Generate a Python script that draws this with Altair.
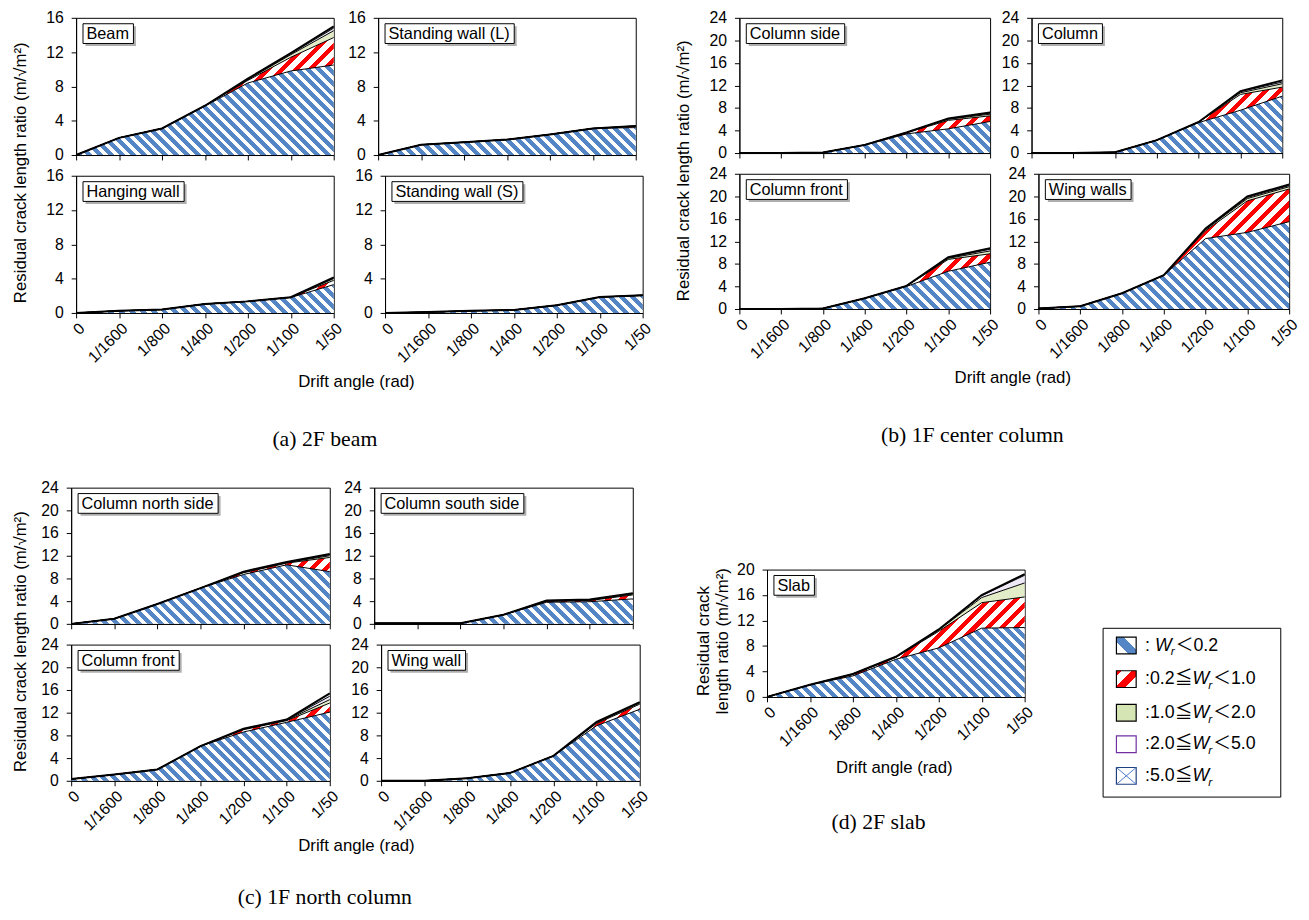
import altair as alt
import numpy as np
import pandas as pd

SANS = "Liberation Sans, Arial, Noto Sans CJK JP"
SERIF = "Liberation Serif, Times New Roman, serif"

XL = ["0", "1/1600", "1/800", "1/400", "1/200", "1/100", "1/50"]
YTITLE = "Residual crack length ratio (m/√m²)"
XTITLE = "Drift angle (rad)"

# ---- data: residual crack length ratio per crack-width class (layer values) ----
# (a) 2F beam
BEAM_1 = [0, 2.0, 3.1, 5.7, 8.4, 9.8, 10.5]
BEAM_2 = [0, 0, 0, 0.05, 0.3, 1.6, 3.2]
BEAM_3 = [0, 0, 0, 0, 0.1, 0.3, 0.8]
BEAM_4 = [0, 0, 0, 0, 0.05, 0.1, 0.3]
BEAM_5 = [0, 0, 0, 0, 0.05, 0.1, 0.2]

SWL_1 = [0, 1.2, 1.5, 1.8, 2.4, 3.1, 3.2]
SWL_2 = [0, 0, 0, 0, 0, 0, 0.15]
SWL_3 = [0, 0, 0, 0, 0, 0, 0.03]
SWL_4 = [0, 0, 0, 0, 0, 0, 0.02]
SWL_5 = [0, 0, 0, 0, 0, 0, 0.0]

HW_1 = [0, 0.25, 0.4, 1.05, 1.35, 1.8, 3.3]
HW_2 = [0, 0, 0, 0, 0, 0.03, 0.5]
HW_3 = [0, 0, 0, 0, 0, 0, 0.2]
HW_4 = [0, 0, 0, 0, 0, 0, 0.1]
HW_5 = [0, 0, 0, 0, 0, 0, 0.05]

SWS_1 = [0, 0.1, 0.25, 0.35, 0.9, 1.85, 2.0]
SWS_2 = [0, 0, 0, 0, 0, 0, 0.05]
SWS_3 = [0, 0, 0, 0, 0, 0, 0.03]
SWS_4 = [0, 0, 0, 0, 0, 0, 0.0]
SWS_5 = [0, 0, 0, 0, 0, 0, 0.0]

# (b) 1F center column
CS_1 = [0, 0, 0.1, 1.4, 3.4, 4.3, 5.6]
CS_2 = [0, 0, 0, 0.05, 0.2, 1.5, 1.0]
CS_3 = [0, 0, 0, 0, 0.05, 0.2, 0.3]
CS_4 = [0, 0, 0, 0, 0, 0.1, 0.2]
CS_5 = [0, 0, 0, 0, 0, 0.05, 0.1]

COL_1 = [0, 0, 0.15, 2.3, 5.4, 7.6, 10.1]
COL_2 = [0, 0, 0, 0, 0.1, 2.8, 1.6]
COL_3 = [0, 0, 0, 0, 0, 0.3, 0.6]
COL_4 = [0, 0, 0, 0, 0.02, 0.2, 0.3]
COL_5 = [0, 0, 0, 0, 0, 0.1, 0.3]

CFB_1 = [0, 0, 0.1, 1.9, 4.0, 6.7, 8.3]
CFB_2 = [0, 0, 0, 0, 0.1, 2.1, 1.5]
CFB_3 = [0, 0, 0, 0, 0, 0.2, 0.5]
CFB_4 = [0, 0, 0, 0, 0, 0.1, 0.3]
CFB_5 = [0, 0, 0, 0, 0, 0.1, 0.2]

WWS_1 = [0.1, 0.5, 2.8, 6.0, 12.5, 13.6, 15.5]
WWS_2 = [0, 0, 0, 0, 1.4, 5.6, 5.8]
WWS_3 = [0, 0, 0, 0, 0.2, 0.4, 0.4]
WWS_4 = [0, 0, 0, 0, 0.1, 0.2, 0.2]
WWS_5 = [0, 0, 0, 0, 0.1, 0.2, 0.2]

# (c) 1F north column
CNS_1 = [0, 0.9, 3.5, 6.3, 8.7, 10.4, 9.2]
CNS_2 = [0, 0, 0, 0, 0.3, 0.3, 2.5]
CNS_3 = [0, 0, 0, 0, 0.1, 0.1, 0.3]
CNS_4 = [0, 0, 0, 0, 0.05, 0.05, 0.2]
CNS_5 = [0, 0, 0, 0, 0.05, 0.05, 0.1]

CSS_1 = [0.1, 0.1, 0.1, 1.6, 3.8, 3.9, 4.4]
CSS_2 = [0, 0, 0, 0, 0.15, 0.2, 0.7]
CSS_3 = [0, 0, 0, 0, 0.1, 0.1, 0.2]
CSS_4 = [0, 0, 0, 0, 0.05, 0.05, 0.05]
CSS_5 = [0, 0, 0, 0, 0, 0.05, 0.05]

CFC_1 = [0.3, 1.1, 2.0, 6.1, 8.6, 10.3, 12.1]
CFC_2 = [0, 0, 0, 0, 0.4, 0.3, 1.6]
CFC_3 = [0, 0, 0, 0, 0.1, 0.1, 0.6]
CFC_4 = [0, 0, 0, 0, 0.05, 0.05, 0.6]
CFC_5 = [0, 0, 0, 0, 0.05, 0.05, 0.5]

WW_1 = [0, 0, 0.45, 1.4, 4.4, 9.7, 12.6]
WW_2 = [0, 0, 0, 0, 0, 0.4, 0.9]
WW_3 = [0, 0, 0, 0, 0, 0.15, 0.2]
WW_4 = [0, 0, 0, 0, 0, 0.1, 0.1]
WW_5 = [0, 0, 0, 0, 0, 0.05, 0.05]

# (d) 2F slab
SLAB_1 = [0, 1.9, 3.3, 5.9, 7.7, 10.8, 10.9]
SLAB_2 = [0, 0, 0.25, 0.3, 2.6, 4.0, 4.8]
SLAB_3 = [0, 0, 0.05, 0.05, 0.2, 0.8, 2.2]
SLAB_4 = [0, 0, 0, 0.05, 0.05, 0.3, 1.2]
SLAB_5 = [0, 0, 0, 0, 0.05, 0.1, 0.2]

LEG_PRE = [": ", ":0.2≦", ":1.0≦", ":2.0≦", ":5.0≦"]
LEG_SUF = ["＜0.2", "＜1.0", "＜2.0", "＜5.0", ""]

# ---- styles ----
BLUE = "#5485C4"
RED = "#FF0000"
GREEN_FILL = "#e3ecc8"
PURPLE_FILL = "#efe8f6"
CROSS_FILL = "#e9eef8"

AW = {" ": 278, "(": 333, ")": 333, "A": 667, "B": 667, "C": 722, "D": 722, "F": 611,
      "H": 722, "L": 556, "S": 667, "W": 944, "a": 556, "b": 556, "c": 500, "d": 556,
      "e": 556, "f": 278, "g": 556, "h": 556, "i": 222, "k": 500, "l": 222, "m": 833,
      "n": 556, "o": 556, "r": 333, "s": 500, "t": 278, "u": 556, "w": 722, ".": 278,
      "/": 278, ":": 278}


def tw(s, size):
    tot = 0
    for c in s:
        if ord(c) > 0x2000:
            tot += 1000
        else:
            tot += AW.get(c, 556)
    return tot * size / 1000.0


def stripe_fill(W, H, color, period, frac, slant, bands=None):
    L = W + H
    s = L / (W * W + H * H)
    if slant == "back":
        x1, y1, x2, y2 = 0, 1, s * W, 1 - s * H
    else:
        x1, y1, x2, y2 = 0, 0, s * W, s * H
    stops = [{"offset": 0, "color": "white"}]
    if bands is None:
        bands = []
        k = 0
        while k * period < L:
            a = k * period / L
            b = min((k * period + frac * period) / L, 1.0)
            bands.append((a, b))
            k += 1
    for a, b in bands:
        stops += [{"offset": a, "color": "white"}, {"offset": a, "color": color},
                  {"offset": b, "color": color}, {"offset": b, "color": "white"}]
    stops.append({"offset": 1, "color": "white"})
    return {"gradient": "linear", "x1": x1, "y1": y1, "x2": x2, "y2": y2, "stops": stops}


def layer_fill(k, W, H):
    if k == 0:
        return stripe_fill(W, H, BLUE, 11, 0.55, "back") if H > 2 else BLUE
    if k == 1:
        return stripe_fill(W, H, RED, 14, 0.45, "fwd") if H > 2 else RED
    return [GREEN_FILL, PURPLE_FILL, CROSS_FILL][k - 2]


def blank(w, h):
    return alt.Chart(pd.DataFrame({"a": [0]})).mark_rect(opacity=0).encode(
        x=alt.value(0), x2=alt.value(w), y=alt.value(0), y2=alt.value(h)).properties(
        width=w, height=h, view=alt.ViewBackground(strokeOpacity=0))


def text_box(w, h, items):
    out = []
    for text, x, y, font, size, angle in items:
        out.append(alt.Chart(pd.DataFrame({"t": [text]})).mark_text(
            font=font, fontSize=size, align="center", baseline="middle", color="black",
            angle=angle).encode(x=alt.value(x), y=alt.value(y), text="t:N"))
    return alt.layer(*out).properties(width=w, height=h, view=alt.ViewBackground(strokeOpacity=0))


def panel(name, layers, ymax, w, h, xlabels=True):
    arr = np.array(layers, dtype=float)
    cum = np.cumsum(arr, axis=0)
    low = np.vstack([np.zeros(arr.shape[1]), cum[:-1]])
    ppu = h / ymax
    xscale = alt.Scale(type="point", domain=XL, padding=0)
    yscale = alt.Scale(domain=[0, ymax], nice=False, zero=True)
    xaxis = alt.Axis(labels=xlabels, labelAngle=-45, title=None, ticks=True, tickSize=5,
                     labelPadding=2)
    yaxis = alt.Axis(values=list(range(0, ymax + 1, 4)), title=None, tickSize=5, labelPadding=8)
    xenc = alt.X("x:O", scale=xscale, axis=xaxis)
    out = []
    for k in range(5):
        df = pd.DataFrame({"x": XL, "lo": low[k], "hi": cum[k]})
        Hpx = (cum[k].max() - low[k].min()) * ppu
        out.append(alt.Chart(df).mark_area(fill=layer_fill(k, w, Hpx), interpolate="linear").encode(
            x=xenc, y=alt.Y("hi:Q", scale=yscale, axis=yaxis), y2="lo:Q"))
    for k in range(5):
        df = pd.DataFrame({"x": XL, "hi": cum[k]})
        out.append(alt.Chart(df).mark_line(color="black", strokeWidth=2.0 if k == 4 else 1.0).encode(
            x=xenc, y=alt.Y("hi:Q", scale=yscale, axis=yaxis)))
    lab = alt.Chart(pd.DataFrame({"t": [name]}))
    bw = tw(name, 16.5) + 8
    out.append(lab.mark_rect(color="#9a9a9a", opacity=0.8).encode(
        x=alt.value(9.5), x2=alt.value(9.5 + bw), y=alt.value(8.5), y2=alt.value(28.5)))
    out.append(lab.mark_rect(fill="white", stroke="black", strokeWidth=1).encode(
        x=alt.value(7), x2=alt.value(7 + bw), y=alt.value(6), y2=alt.value(26)))
    out.append(lab.mark_text(align="left", baseline="middle", font=SANS, fontSize=16.5,
                             color="black").encode(x=alt.value(10.5), y=alt.value(16.5), text="t:N"))
    return alt.layer(*out).properties(width=w, height=h)


def group(items, ymax, w, h, hsp, vsp, ysp, caption, fw, fh, drift_xy, cap_xy):
    p = [panel(n, L, ymax, w, h, xlabels=(i >= 2)) for i, (n, L) in enumerate(items)]
    r1 = alt.hconcat(p[0], p[1], spacing=hsp)
    r2 = alt.hconcat(p[2], p[3], spacing=hsp)
    grid = alt.vconcat(r1, r2, spacing=vsp)
    ycol = text_box(20, 8 + 2 * h + 20 + 8,
                    [(YTITLE, 10, 8 + (2 * h + 20) / 2, SANS, 17, 270)])
    foot = text_box(fw, fh, [(XTITLE, drift_xy[0], drift_xy[1], SANS, 17, 0),
                             (caption, cap_xy[0], cap_xy[1], SERIF, 22, 0)])
    return alt.vconcat(alt.hconcat(ycol, grid, spacing=ysp), foot, spacing=0)


def legend():
    W, H = 180, 171
    yc = [18, 52, 86, 118, 150]
    base = alt.Chart(pd.DataFrame({"a": [0]}))
    out = []
    sw0, sw1 = 14, 34
    fills = [
        stripe_fill(20, 17, BLUE, 10, 0.45, "back", bands=[(0.34, 0.66)]),
        stripe_fill(20, 17, RED, 10, 0.45, "fwd", bands=[(0.0, 0.14), (0.42, 0.68)]),
        "#d6e5b4", "white", "white"]
    strokes = ["black", "black", "black", "#7030A0", "#1f3f7f"]
    for i in range(5):
        y0, y1 = yc[i] - 8.5, yc[i] + 8.5
        out.append(base.mark_rect(fill=fills[i], stroke=strokes[i], strokeWidth=1.2).encode(
            x=alt.value(sw0), x2=alt.value(sw1), y=alt.value(y0), y2=alt.value(y1)))
        if i == 4:
            out.append(base.mark_rule(color="#4a78c8", strokeWidth=1).encode(
                x=alt.value(sw0), x2=alt.value(sw1), y=alt.value(y0), y2=alt.value(y1)))
            out.append(base.mark_rule(color="#4a78c8", strokeWidth=1).encode(
                x=alt.value(sw0), x2=alt.value(sw1), y=alt.value(y1), y2=alt.value(y0)))
        x0 = 43
        out.append(base.mark_text(align="left", baseline="middle", font=SANS, fontSize=18,
                                  color="black", text=LEG_PRE[i]).encode(
            x=alt.value(x0), y=alt.value(yc[i])))
        xw = x0 + tw(LEG_PRE[i], 18)
        out.append(base.mark_text(align="left", baseline="middle", font=SANS, fontSize=18,
                                  fontStyle="italic", color="black", text="W").encode(
            x=alt.value(xw), y=alt.value(yc[i])))
        xr = xw + tw("W", 18) - 1
        out.append(base.mark_text(align="left", baseline="middle", font=SANS, fontSize=12,
                                  fontStyle="italic", color="black", text="r").encode(
            x=alt.value(xr), y=alt.value(yc[i] + 6)))
        if LEG_SUF[i]:
            out.append(base.mark_text(align="left", baseline="middle", font=SANS, fontSize=18,
                                      color="black", text=LEG_SUF[i]).encode(
                x=alt.value(xr + 5), y=alt.value(yc[i])))
    return alt.layer(*out).properties(width=W, height=H)


A = group([("Beam", [BEAM_1, BEAM_2, BEAM_3, BEAM_4, BEAM_5]),
           ("Standing wall (L)", [SWL_1, SWL_2, SWL_3, SWL_4, SWL_5]),
           ("Hanging wall", [HW_1, HW_2, HW_3, HW_4, HW_5]),
           ("Standing wall (S)", [SWS_1, SWS_2, SWS_3, SWS_4, SWS_5])],
          16, 261, 139, 8, 3, 14, "(a) 2F beam", 635, 86, (350, 16), (318, 74))
B = group([("Column side", [CS_1, CS_2, CS_3, CS_4, CS_5]),
           ("Column", [COL_1, COL_2, COL_3, COL_4, COL_5]),
           ("Column front", [CFB_1, CFB_2, CFB_3, CFB_4, CFB_5]),
           ("Wing walls", [WWS_1, WWS_2, WWS_3, WWS_4, WWS_5])],
          24, 254, 137, 5, 3, 14, "(b) 1F center column", 620, 86, (343, 16), (302, 74))
C = group([("Column north side", [CNS_1, CNS_2, CNS_3, CNS_4, CNS_5]),
           ("Column south side", [CSS_1, CSS_2, CSS_3, CSS_4, CSS_5]),
           ("Column front", [CFC_1, CFC_2, CFC_3, CFC_4, CFC_5]),
           ("Wing wall", [WW_1, WW_2, WW_3, WW_4, WW_5])],
          24, 262, 138, 8, 3, 9, "(c) 1F north column", 635, 75, (350, 12), (318, 64))

slab = panel("Slab", [SLAB_1, SLAB_2, SLAB_3, SLAB_4, SLAB_5], 20, 261, 129, xlabels=True)
ycol_d = text_box(40, 145, [("Residual crack", 10, 72.5, SANS, 17, 270),
                            ("length ratio (m/√m²)", 29, 72.5, SANS, 17, 270)])
foot_d = text_box(334, 85, [(XTITLE, 203, 18, SANS, 17, 0),
                            ("(d) 2F slab", 187, 73, SERIF, 22, 0)])
D_left = alt.vconcat(alt.hconcat(ycol_d, slab, spacing=2), foot_d, spacing=0)
D = alt.vconcat(blank(10, 74),
                alt.hconcat(D_left, alt.vconcat(blank(10, 58), legend(), spacing=0), spacing=66),
                spacing=0)

top = alt.hconcat(A, B, spacing=20)
bottom = alt.hconcat(C, D, spacing=43)

chart = alt.vconcat(top, bottom, spacing=28).properties(
    padding={"left": 3, "top": -5, "right": 0, "bottom": 0}, background="white"
).configure_view(stroke="black", strokeWidth=1).configure_axis(
    labelFont=SANS, labelFontSize=16, labelColor="black", titleFont=SANS, titleFontSize=17,
    titleFontWeight="normal", titleColor="black", tickColor="black", domainColor="black",
    grid=False, domainWidth=1, tickWidth=1
)

chart.save("out.html", embed_options={"renderer": "svg", "actions": False})
